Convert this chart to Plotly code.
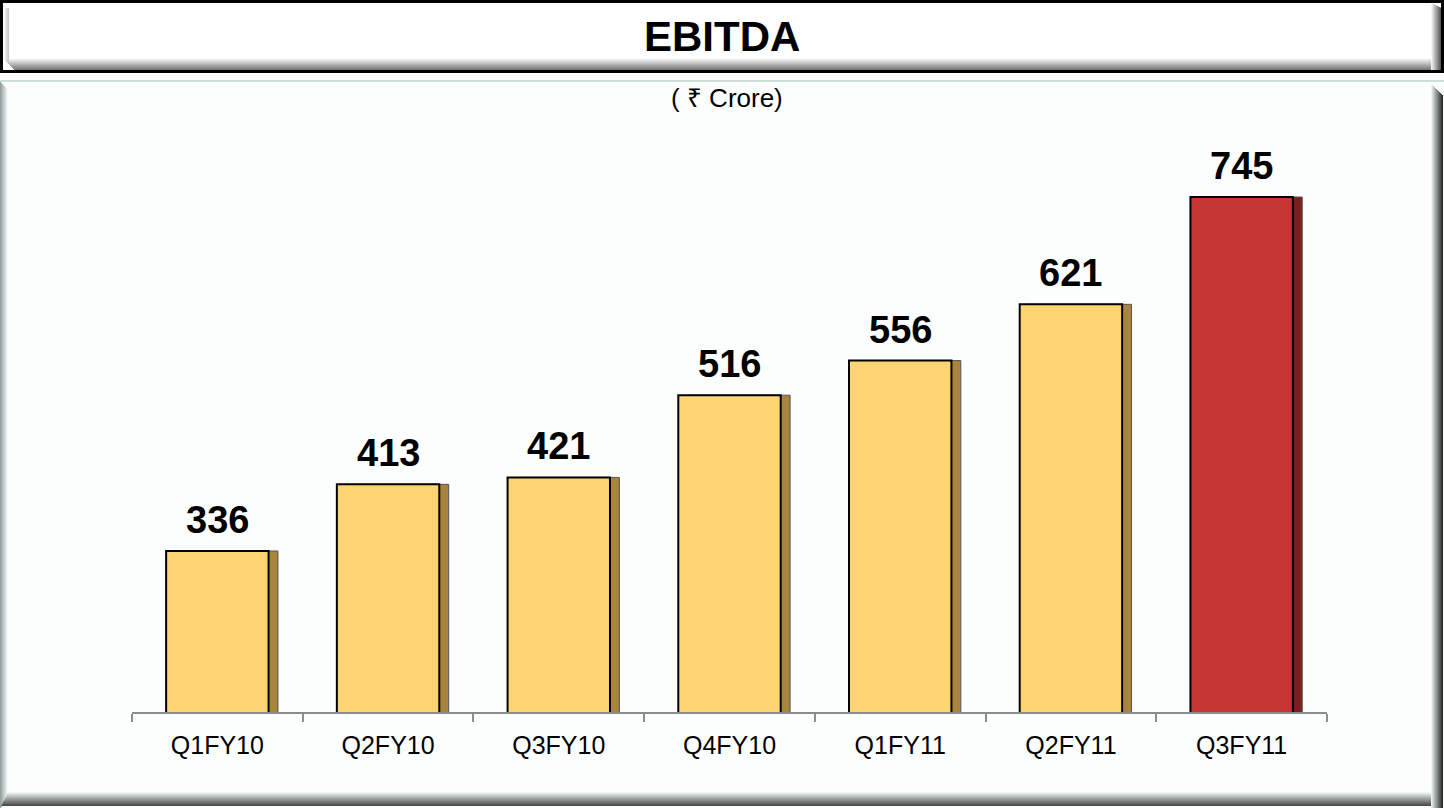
import plotly.graph_objects as go

W, H = 1444, 808

quarters = ["Q1FY10", "Q2FY10", "Q3FY10", "Q4FY10", "Q1FY11", "Q2FY11", "Q3FY11"]
ebitda = [336, 413, 421, 516, 556, 621, 745]

FONT = "Liberation Sans, Arial, sans-serif"
front_colors = ["#FDD472"] * 6 + ["#C63634"]
side_colors = ["#A8843E"] * 6 + ["#7A1E1E"]


def px(x):
    return x / W


def py(y):
    return 1 - y / H


def rect(x0, y0, x1, y1, fill, line=None, lw=0):
    return dict(
        type="rect", xref="paper", yref="paper", layer="below",
        x0=px(x0), x1=px(x1), y0=py(y1), y1=py(y0),
        fillcolor=fill, line=dict(color=line or fill, width=lw),
    )


def grad(c0, c1, n):
    out = []
    for i in range(n):
        t = i / max(n - 1, 1)
        rgb = [round(a + (b - a) * t) for a, b in zip(c0, c1)]
        out.append("rgb(%d,%d,%d)" % tuple(rgb))
    return out


shapes = []

# ── Title box ─────────────────────────────────────────────────────────────
shapes.append(rect(0, 0, W, 73, "#000000"))
shapes.append(rect(3, 3, W - 3, 70, "#FFFFFF"))
for i, c in enumerate(grad((250, 250, 250), (120, 120, 120), 12)):
    shapes.append(rect(3 + i, 58 + i, W - 3 - i * 0.3, 59 + i, c))
for i, c in enumerate(grad((245, 245, 245), (90, 90, 90), 10)):
    shapes.append(rect(W - 13 + i, 3 + i * 0.5, W - 12 + i, 70, c))
for i, c in enumerate(grad((255, 255, 255), (200, 200, 200), 6)):
    shapes.append(rect(3 + i, 8, 4 + i, 58 + i, c))

# ── Main panel ────────────────────────────────────────────────────────────
shapes.append(rect(0, 80, W, H, "#FCFEFD"))
shapes.append(rect(0, 80, W, 82, "#CFDEDA"))
for i, c in enumerate(grad((150, 160, 158), (245, 250, 249), 8)):
    shapes.append(rect(i, 82 + i, i + 1, H - i, c))
for i, c in enumerate(grad((240, 246, 245), (70, 74, 73), 14)):
    shapes.append(rect(8 - i * 0.5, H - 16 + i, W - 14 + i * 0.5, H - 15 + i, c))
for i, c in enumerate(grad((235, 242, 240), (40, 42, 42), 12)):
    shapes.append(rect(W - 13 + i, 84 + i, W - 12 + i, H, c))

fig = go.Figure()

# side face of each bar (drawn first, peeks out on the right)
fig.add_trace(go.Bar(
    x=quarters, y=ebitda,
    width=0.6, offset=-0.3 + 0.055,
    marker=dict(color=side_colors, line=dict(color="#555555", width=1)),
    hoverinfo="skip", showlegend=False,
))

# front face
fig.add_trace(go.Bar(
    x=quarters, y=ebitda,
    width=0.6, offset=-0.3,
    marker=dict(color=front_colors, line=dict(color="#000000", width=2)),
    showlegend=False,
))

# value labels
annotations = [
    dict(x=q, y=v, xref="x", yref="y", text="<b>%d</b>" % v,
         showarrow=False, yanchor="bottom", yshift=8,
         font=dict(size=38, color="#000000", family=FONT))
    for q, v in zip(quarters, ebitda)
]
annotations.append(dict(
    x=0.5, y=py(36), xref="paper", yref="paper", text="<b>EBITDA</b>",
    xanchor="center", yanchor="middle",
    showarrow=False, font=dict(size=42, color="#000000", family=FONT),
))
annotations.append(dict(
    x=px(727), y=py(98), xref="paper", yref="paper", text="( ₹ Crore)",
    xanchor="center", yanchor="middle",
    showarrow=False, font=dict(size=26, color="#000000", family=FONT),
))

fig.update_layout(
    width=W, height=H,
    margin=dict(l=0, r=0, t=0, b=0),
    paper_bgcolor="#FFFFFF", plot_bgcolor="rgba(0,0,0,0)",
    barmode="overlay",
    shapes=shapes,
    annotations=annotations,
    font=dict(family=FONT, color="#000000"),
    xaxis=dict(
        domain=[px(132), px(1327)],
        anchor="y",
        range=[-0.5, 6.5],
        showgrid=False, zeroline=False,
        showline=True, linecolor="#8C8C8C", linewidth=2,
        ticks="outside", tickson="boundaries", ticklen=8,
        tickcolor="#8C8C8C", tickwidth=2,
        ticklabelstandoff=10,
        tickfont=dict(size=25, color="#000000", family=FONT),
    ),
    yaxis=dict(
        domain=[py(712), py(130)],
        range=[150, 822.4],
        visible=False,
    ),
)

fig.write_html(
    "out.html",
    config={"displayModeBar": False},
    post_script="document.body.style.margin='0';",
)
